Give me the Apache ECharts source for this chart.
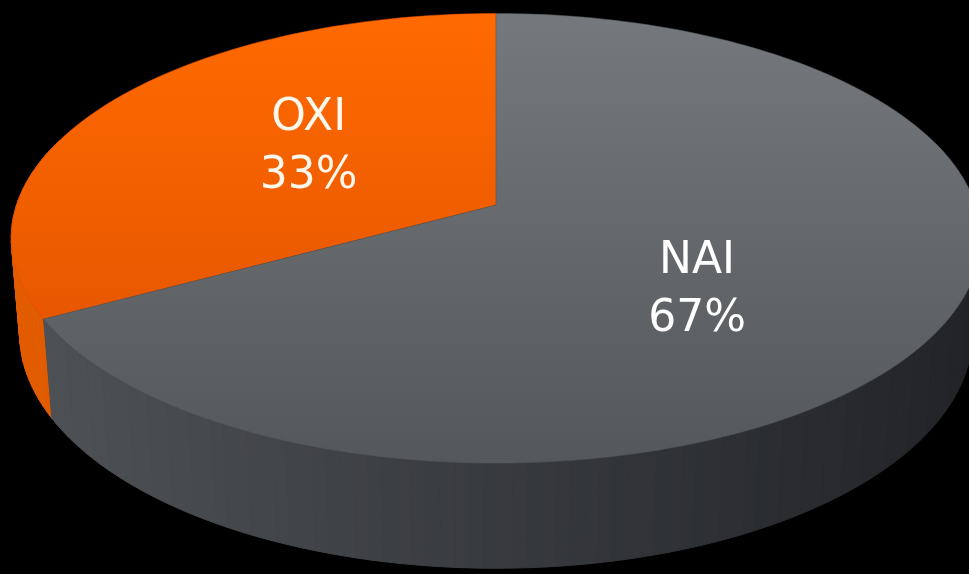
<!DOCTYPE html>
<html><head><meta charset="utf-8">
<script src="https://cdn.jsdelivr.net/npm/echarts@6/dist/echarts.min.js"></script>
<style>html,body{margin:0;padding:0;background:#000}#c{width:969px;height:574px}</style>
</head><body><div id="c"></div>
<script>
// ---- data ----
const categories = ['OXI', 'NAI'];
const values = [33, 67];

// ---- styles ----
const topGradients = [['#FF6A00', '#DD4E00'], ['#75787C', '#55585B']];
const wallColors = [['#E35C00', '#C84A00'], ['#4F5256', '#222427']];
const labelColors = ['#FFF6EC', '#FFFFFF'];
const labelOffsets = [[0, -7], [0, 31]];

const VIEW = { cx: 496, cy: 205, f: 2880, D: 6.007, tilt: 27.3 * Math.PI / 180, h: 0.225 };
const total = values.reduce((a, b) => a + b, 0);

function project(phi, r, y) {
  const x = r * Math.sin(phi), z = r * Math.cos(phi);
  const s = Math.sin(VIEW.tilt), c = Math.cos(VIEW.tilt);
  const v = z * s + y * c;
  const d = VIEW.D + z * c - y * s;
  return [VIEW.cx + VIEW.f * x / d, VIEW.cy - VIEW.f * v / d];
}
function hex2rgb(h) { return [1, 3, 5].map(i => parseInt(h.substr(i, 2), 16)); }
function mix(a, b, t) {
  const A = hex2rgb(a), B = hex2rgb(b);
  return 'rgb(' + A.map((v, i) => Math.round(v + (B[i] - v) * t)).join(',') + ')';
}

const chart = echarts.init(document.getElementById('c'), null, { renderer: 'canvas' });
chart.setOption({
  backgroundColor: '#000000',
  animation: false,
  series: [{
    type: 'custom',
    coordinateSystem: 'none',
    data: values.map((v, i) => ({ name: categories[i], value: [v] })),
    renderItem: function (params, api) {
      const i = params.dataIndex;
      const val = api.value(0);
      let before = 0;
      for (let k = 0; k < i; k++) before += values[k];
      const a0 = -2 * Math.PI * before / total;
      const a1 = -2 * Math.PI * (before + val) / total;
      const n = Math.max(8, Math.round(240 * val / total));
      const children = [];
      // outer side wall
      for (let j = 0; j < n; j++) {
        const p0 = a0 + (a1 - a0) * j / n, p1 = a0 + (a1 - a0) * (j + 1) / n;
        if (Math.cos((p0 + p1) / 2) > 0.3) continue;
        const t0 = project(p0, 1, 0), t1 = project(p1, 1, 0);
        const b0 = project(p0, 1, -VIEW.h), b1 = project(p1, 1, -VIEW.h);
        const tx = Math.min(1, Math.max(0, ((t0[0] + t1[0]) / 2 - 14) / 950));
        const col = mix(wallColors[i][0], wallColors[i][1], tx);
        children.push({
          type: 'polygon', z2: 1,
          shape: { points: [t0, t1, b1, b0] },
          style: { fill: col, stroke: col, lineWidth: 1 }
        });
      }
      // top face
      const pts = [project(0, 0, 0)];
      for (let j = 0; j <= n; j++) pts.push(project(a0 + (a1 - a0) * j / n, 1, 0));
      children.push({
        type: 'polygon', z2: 10,
        shape: { points: pts },
        style: {
          fill: new echarts.graphic.LinearGradient(0, 12, 0, 465, [
            { offset: 0, color: topGradients[i][0] },
            { offset: 1, color: topGradients[i][1] }
          ], true),
          stroke: topGradients[i][1], lineWidth: 0.5
        }
      });
      // label
      const mid = (a0 + a1) / 2;
      const lp = project(mid, 0.47, 0);
      children.push({
        type: 'text', z2: 20,
        style: {
          text: categories[i] + '\n' + values[i] + '%',
          x: lp[0] + labelOffsets[i][0], y: lp[1] + labelOffsets[i][1],
          fill: labelColors[i],
          font: '44px "DejaVu Sans", sans-serif',
          lineHeight: 58,
          align: 'center', verticalAlign: 'middle'
        }
      });
      return { type: 'group', children: children };
    }
  }]
});
</script>
</body></html>
